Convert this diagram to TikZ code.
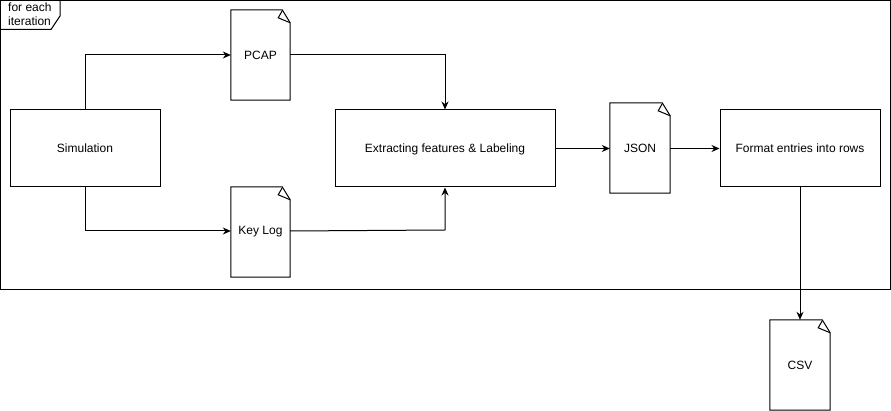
\documentclass[tikz,border=0pt]{standalone}
\usepackage{fontspec}
\setmainfont{Liberation Sans}
\usetikzlibrary{arrows.meta}
\newcommand\docoutline[1]{%
  \draw[docline] (#1.north west) -- ([xshift=-8pt]#1.north east) -- ([yshift=-13pt]#1.north east) -- (#1.south east) -- (#1.south west) -- cycle;
  \draw[docline] ([xshift=-8pt,yshift=-1pt]#1.north east) -- ([xshift=-12pt,yshift=-8pt]#1.north east) -- ([yshift=-13pt]#1.north east);}
\begin{document}
\begin{tikzpicture}[x=1pt,y=-1pt,
  every node/.style={font=\fontsize{12}{14}\selectfont},
  box/.style={draw, line width=1pt, minimum width=150pt, minimum height=77pt, inner sep=0pt, text depth=0pt},
  doc/.style={minimum width=59pt, minimum height=90pt, inner sep=0pt},
  docline/.style={line width=1pt, line join=miter},
  conn/.style={line width=1pt, -{Stealth[length=8pt,width=7pt]}}]
\useasboundingbox (0,0) rectangle (891,411);
% frame
\draw[line width=1pt] (0.5,0.5) rectangle (890,290);
\draw[line width=1pt] (0.5,0.5) -- (60,0.5) -- (60,16) -- (51,29.5) -- (0.5,29.5);
\node[anchor=north west, align=left, inner sep=0pt, font=\fontsize{12}{13.5}\selectfont] (lbl) at (8,3) {for each\\iteration};
% nodes
\node[box] (sim) at (85,148.5) {Simulation};
\node[doc] (pcap) at (260.5,55) {PCAP};
\node[doc] (key) at (260.5,232) {Key Log};
\node[box, minimum width=220pt] (ext) at (445,148.5) {Extracting features \& Labeling};
\node[doc, minimum width=60pt] (json) at (640,148) {JSON};
\node[box, minimum width=160pt] (fmt) at (800,148.5) {Format entries into rows};
\node[doc, minimum width=60pt] (csv) at (800,365) {CSV};
\docoutline{pcap}
\docoutline{key}
\docoutline{json}
\docoutline{csv}
% connectors
\draw[conn] (sim.north) |- (pcap.west);
\draw[conn] (sim.south) |- ([yshift=1pt]key.west);
\draw[conn] (pcap.east) -| (ext.north);
\coordinate (kb) at (445,230);
\draw[conn] ([yshift=1pt]key.east) -- (kb) -- (ext.south);
\draw[conn] (ext.east) -- (json.west |- ext.east);
\draw[conn] (json.east |- fmt.west) -- (fmt.west);
\draw[conn] (fmt.south) -- (csv.north);
\end{tikzpicture}
\end{document}
